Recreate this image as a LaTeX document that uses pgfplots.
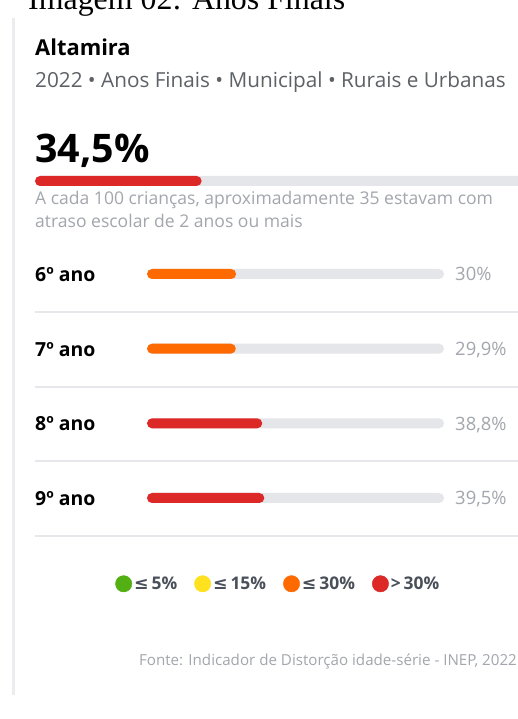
\documentclass[border=0pt]{standalone}
\usepackage{pgfplots}
\pgfplotsset{compat=1.18}
\usepackage{fontspec}
\setmainfont{Open Sans}
\newfontfamily\seriffont{Liberation Serif}
\newfontfamily\symb{DejaVu Sans}
\definecolor{barred}{HTML}{DD2828}
\definecolor{barorange}{HTML}{FF6A00}
\definecolor{lgreen}{HTML}{52B012}
\definecolor{lyellow}{HTML}{FFE11F}
\definecolor{track}{HTML}{E5E6EA}
\definecolor{sepgray}{HTML}{E6E7EA}
\definecolor{leftline}{HTML}{ECECEF}
\definecolor{subgray}{HTML}{5E6166}
\definecolor{lightgray}{HTML}{A3A6AD}
\definecolor{legtext}{HTML}{4A505A}

\begin{document}
\begin{tikzpicture}[x=1bp,y=1bp]
\path[use as bounding box] (0,0) rectangle (518,719);
\clip (0,0) rectangle (518,719);
\fill[white] (0,0) rectangle (518,719);
\node[anchor=base west, inner sep=0, font=\seriffont\fontsize{32}{34}\selectfont] at (28,709) {Imagem 02: Anos Finais};
\fill[leftline] (11.5,24) rectangle (14.5,701);
\node[anchor=base west, inner sep=0, font=\bfseries\fontsize{22}{26}\selectfont] at (35,663) {Altamira};
\node[anchor=base west, inner sep=0, text=subgray, font=\fontsize{20.8}{24}\selectfont] at (35,631) {2022 • Anos Finais • Municipal • Rurais e Urbanas};
\node[anchor=base west, inner sep=0, font=\bfseries\fontsize{39.5}{46}\selectfont] at (35,556) {34,5\%};
\node[anchor=base west, inner sep=0, text=lightgray, font=\fontsize{17.6}{20}\selectfont] at (35,514) {A cada 100 crianças, aproximadamente 35 estavam com};
\node[anchor=base west, inner sep=0, text=lightgray, font=\fontsize{17.6}{20}\selectfont] at (35,491) {atraso escolar de 2 anos ou mais};

% main bar
\begin{axis}[at={(35bp,533bp)}, anchor=south west, scale only axis, width=483bp, height=10bp,
  xmin=0, xmax=100, ymin=-0.5, ymax=0.5, hide axis, clip=false]
\addplot[xbar, bar width=10bp, bar shift=0pt, fill=track, draw=none, rounded corners=5bp] coordinates {(102,0)};
\addplot[xbar, bar width=10bp, bar shift=0pt, fill=barred, draw=none, rounded corners=5bp] coordinates {(34.5,0)};
\end{axis}

% separators
\foreach \yy in {407,332,258,183} {\fill[sepgray] (35,\yy-0.75) rectangle (518,\yy+0.75);}

% rows
\begin{axis}[at={(147bp,221bp)}, anchor=south west, scale only axis, width=297bp, height=224bp,
  xmin=0, xmax=100, ymin=0, ymax=3, hide axis, clip=false,
  legend style={at={(axis description cs:0.442,-0.383)}, anchor=center, draw=none, fill=none,
    legend columns=4, inner sep=0pt, text=legtext, font=\bfseries\fontsize{17.5}{20}\selectfont,
    /tikz/every even column/.append style={column sep=15bp}},
  legend image code/.code={\fill[#1] (4bp,0bp) circle (8.2bp);}]
\addplot[forget plot, xbar, bar width=10bp, bar shift=0pt, fill=track, draw=none, rounded corners=5bp] coordinates {(100,0) (100,1) (100,2) (100,3)};
\addplot[forget plot, xbar, bar width=10bp, bar shift=0pt, fill=barorange, draw=none, rounded corners=5bp] coordinates {(30,3) (29.9,2)};
\addplot[forget plot, xbar, bar width=10bp, bar shift=0pt, fill=barred, draw=none, rounded corners=5bp] coordinates {(38.8,1) (39.5,0)};
\addlegendimage{lgreen}\addlegendentry{{\symb\bfseries ≤}\,5\%}
\addlegendimage{lyellow}\addlegendentry{{\symb\bfseries ≤}\,15\%}
\addlegendimage{barorange}\addlegendentry{{\symb\bfseries ≤}\,30\%}
\addlegendimage{barred}\addlegendentry{>\,30\%}
\node[anchor=base west, inner sep=0, font=\bfseries\fontsize{19.5}{23}\selectfont] at (axis cs:0,3) [xshift=-112bp, yshift=-7.5bp] {6º ano};
\node[anchor=base west, inner sep=0, font=\bfseries\fontsize{19.5}{23}\selectfont] at (axis cs:0,2) [xshift=-112bp, yshift=-7.5bp] {7º ano};
\node[anchor=base west, inner sep=0, font=\bfseries\fontsize{19.5}{23}\selectfont] at (axis cs:0,1) [xshift=-112bp, yshift=-7.5bp] {8º ano};
\node[anchor=base west, inner sep=0, font=\bfseries\fontsize{19.5}{23}\selectfont] at (axis cs:0,0) [xshift=-112bp, yshift=-7.5bp] {9º ano};
\node[anchor=base west, inner sep=0, text=lightgray, font=\fontsize{18.5}{22}\selectfont] at (axis cs:100,3) [xshift=11bp, yshift=-7bp] {30\%};
\node[anchor=base west, inner sep=0, text=lightgray, font=\fontsize{18.5}{22}\selectfont] at (axis cs:100,2) [xshift=11bp, yshift=-7bp] {29,9\%};
\node[anchor=base west, inner sep=0, text=lightgray, font=\fontsize{18.5}{22}\selectfont] at (axis cs:100,1) [xshift=11bp, yshift=-7bp] {38,8\%};
\node[anchor=base west, inner sep=0, text=lightgray, font=\fontsize{18.5}{22}\selectfont] at (axis cs:100,0) [xshift=11bp, yshift=-7bp] {39,5\%};
\end{axis}

\node[anchor=base east, inner sep=0, text=lightgray, font=\fontsize{15.2}{18}\selectfont] at (517,53) {Fonte: Indicador de Distorção idade-série - INEP, 2022};
\end{tikzpicture}
\end{document}
